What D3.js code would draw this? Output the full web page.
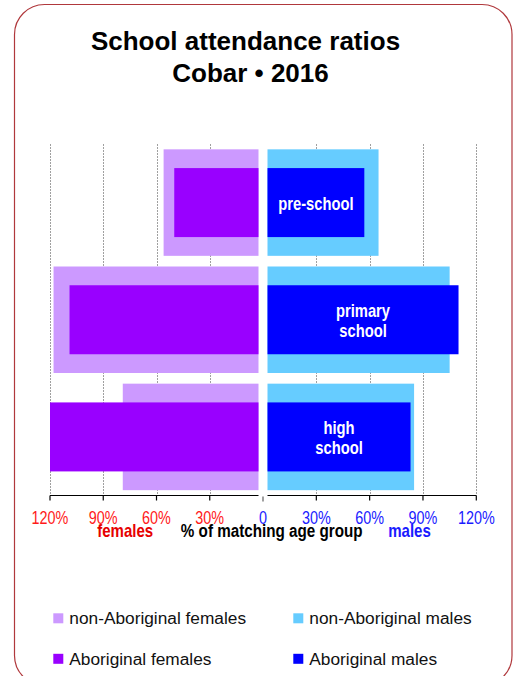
<!DOCTYPE html>
<html>
<head>
<meta charset="utf-8">
<script src="https://cdn.jsdelivr.net/npm/d3@7"></script>
<style>
  html, body { margin: 0; padding: 0; background: #fff; }
  svg { display: block; font-family: "Liberation Sans", Arial, sans-serif; }
</style>
</head>
<body>
<div id="chart"></div>
<script>
// School attendance ratios, Cobar 2016 — % of matching age group
const categories = ["pre-school", "primary school", "high school"];
const categoryLines = [["pre-school"], ["primary", "school"], ["high", "school"]];
const nonAboriginalFemales = [56, 118, 79];
const aboriginalFemales = [50, 109, 120];
const nonAboriginalMales = [65, 105, 85];
const aboriginalMales = [57, 110, 83];
const tickValues = [0, 30, 60, 90, 120];
const tickLabels = ["0", "30%", "60%", "90%", "120%"];
const legendItems = [
  ["non-Aboriginal females", "#cc99ff"],
  ["non-Aboriginal males", "#66ccff"],
  ["Aboriginal females", "#9900ff"],
  ["Aboriginal males", "#0000ff"]
];

const W = 517, H = 676;
const svg = d3.select("#chart").append("svg").attr("width", W).attr("height", H);

// rounded frame
svg.append("rect")
  .attr("x", 14.5).attr("y", 4.5).attr("width", 497.5).attr("height", 681)
  .attr("rx", 30).attr("ry", 30)
  .attr("fill", "#fff").attr("stroke", "#b0383c").attr("stroke-width", 1.2);

// title
const title = svg.append("g").attr("font-weight", "bold").attr("font-size", 26).attr("fill", "#000");
title.append("text").attr("x", 245.5).attr("y", 50).attr("text-anchor", "middle").text("School attendance ratios");
title.append("text").attr("x", 250.5).attr("y", 81.5).attr("text-anchor", "middle").text("Cobar \u2022 2016");

// layout
const centre = 263;
const gap = 4.5;
const plotTop = 144, plotBottom = 495.5;
const xL = d3.scaleLinear().domain([0, 120]).range([centre, 50]);
const xR = d3.scaleLinear().domain([0, 120]).range([centre, 476.3]);
const y = d3.scaleBand().domain(categories).range([plotTop, plotBottom]);
const outerH = 106.5, innerH = 69;

// narrow text helper (condensed sans)
function narrowText(g, x, yy, txt, sx) {
  return g.append("text")
    .attr("transform", `translate(${x},${yy}) scale(${sx},1)`)
    .attr("text-anchor", "middle")
    .text(txt);
}

// gridlines
const grid = svg.append("g").attr("stroke", "#a0a0a0").attr("stroke-width", 1).attr("stroke-dasharray", "2,1");
tickValues.filter(v => v > 0).forEach(v => {
  grid.append("line").attr("x1", Math.round(xL(v)) + 0.5).attr("x2", Math.round(xL(v)) + 0.5)
    .attr("y1", plotTop).attr("y2", plotBottom);
  grid.append("line").attr("x1", Math.round(xR(v)) + 0.5).attr("x2", Math.round(xR(v)) + 0.5)
    .attr("y1", plotTop).attr("y2", plotBottom);
});

// bars
function bars(data, scale, side, h, color) {
  svg.append("g").selectAll("rect").data(data).join("rect")
    .attr("x", (d) => side < 0 ? scale(d) : scale(0) + gap)
    .attr("width", (d) => side < 0 ? (scale(0) - gap) - scale(d) : scale(d) - (scale(0) + gap))
    .attr("y", (d, i) => y(categories[i]) + (y.bandwidth() - h) / 2)
    .attr("height", h)
    .attr("fill", color);
}
bars(nonAboriginalFemales, xL, -1, outerH, "#cc99ff");
bars(aboriginalFemales, xL, -1, innerH, "#9900ff");
bars(nonAboriginalMales, xR, 1, outerH, "#66ccff");
bars(aboriginalMales, xR, 1, innerH, "#0000ff");

// category labels inside male bars
const catG = svg.append("g").attr("fill", "#fff").attr("font-weight", "bold").attr("font-size", 18);
categoryLines.forEach((lines, i) => {
  const cy = y(categories[i]) + y.bandwidth() / 2;
  const cx = (xR(0) + gap + xR(aboriginalMales[i])) / 2;
  lines.forEach((ln, j) => {
    narrowText(catG, cx, cy + 7 - (lines.length - 1) * 10 + j * 20, ln, 0.82);
  });
});

// axes
const axG = svg.append("g");
axG.append("line").attr("x1", xL(120)).attr("x2", xL(0) - gap).attr("y1", plotBottom).attr("y2", plotBottom)
  .attr("stroke", "#000").attr("stroke-width", 1.2);
axG.append("line").attr("x1", xR(0) + gap).attr("x2", xR(120)).attr("y1", plotBottom).attr("y2", plotBottom)
  .attr("stroke", "#000").attr("stroke-width", 1.2);
tickValues.filter(v => v > 0).forEach(v => {
  [xL(v), xR(v)].forEach(x => {
    axG.append("line").attr("x1", x).attr("x2", x).attr("y1", plotBottom).attr("y2", plotBottom + 5)
      .attr("stroke", "#000").attr("stroke-width", 1.2);
  });
});
axG.append("line").attr("x1", centre).attr("x2", centre).attr("y1", plotBottom + 1).attr("y2", plotBottom + 6)
  .attr("stroke", "#777").attr("stroke-width", 1.4);

// tick labels
const tl = svg.append("g").attr("font-size", 18);
tickValues.forEach((v, i) => {
  if (v > 0) narrowText(tl, xL(v), 523.5, tickLabels[i], 0.8).attr("fill", "#ff1a1a");
  narrowText(tl, xR(v), 523.5, tickLabels[i], 0.8).attr("fill", "#1a1aff");
});

// axis captions
const cap = svg.append("g").attr("font-weight", "bold").attr("font-size", 17.5);
narrowText(cap, 125.2, 537, "females", 0.86).attr("fill", "#e60000");
narrowText(cap, 271.7, 537, "% of matching age group", 0.87).attr("fill", "#000");
narrowText(cap, 409.5, 537, "males", 0.86).attr("fill", "#1a1aff");

// legend
const lg = svg.append("g").attr("font-size", 17.3).attr("fill", "#111");
const legX = [53.3, 293.3], legY = [613.3, 653.8];
legendItems.forEach(([label, color], i) => {
  const col = i % 2, row = Math.floor(i / 2);
  lg.append("rect").attr("x", legX[col]).attr("y", legY[row]).attr("width", 10).attr("height", 10).attr("fill", color);
  lg.append("text").attr("x", legX[col] + 16).attr("y", legY[row] + 10.8).text(label);
});
</script>
</body>
</html>
